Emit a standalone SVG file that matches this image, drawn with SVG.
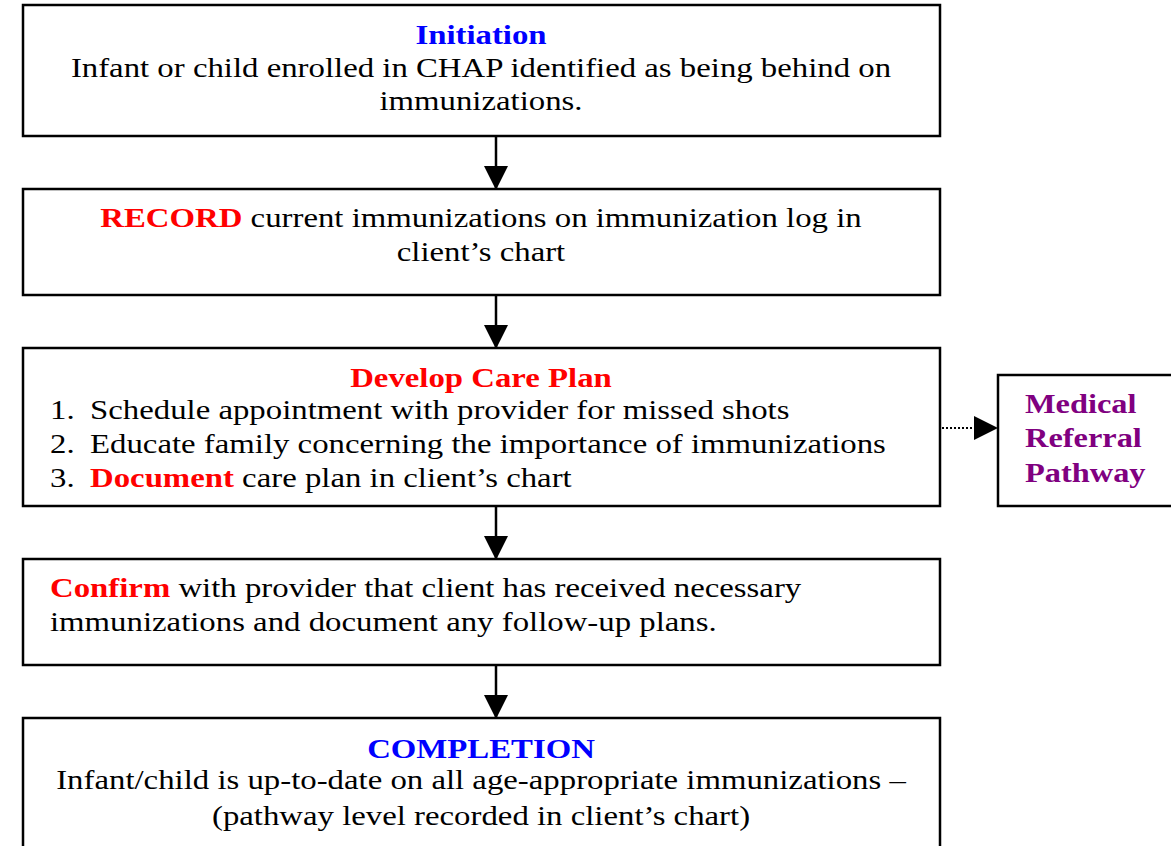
<svg xmlns="http://www.w3.org/2000/svg" width="1171" height="846" viewBox="0 0 1171 846">
<style>
.box{fill:#fff;stroke:#000;stroke-width:2.5}
text{font-family:"Liberation Serif","Times New Roman",serif;font-size:27px;fill:#000}
.c{text-anchor:middle}
.b{font-weight:bold}
.blue{fill:#0000ff}
.red{fill:#ff0000}
.pur{fill:#800080;font-weight:bold}
.ln{stroke:#000;stroke-width:2.5;fill:none}
</style>
<defs>
<marker id="ah" markerWidth="25" markerHeight="24" refX="23" refY="12" orient="auto" markerUnits="userSpaceOnUse">
<path d="M0,0 L24,12 L0,24 Z" fill="#000"/>
</marker>
</defs>
<rect width="1171" height="846" fill="#fff"/>
<g id="connectors">
<line class="ln" x1="496" y1="136" x2="496" y2="189" marker-end="url(#ah)"/>
<line class="ln" x1="496" y1="295" x2="496" y2="348" marker-end="url(#ah)"/>
<line class="ln" x1="496" y1="506" x2="496" y2="559" marker-end="url(#ah)"/>
<line class="ln" x1="496" y1="665" x2="496" y2="718" marker-end="url(#ah)"/>
<line x1="942" y1="428" x2="997" y2="428" stroke="#000" stroke-width="2" stroke-dasharray="2,2" marker-end="url(#ah)"/>
</g>
<g id="initiation">
<rect class="box" x="23" y="5" width="917" height="131"/>
<text class="c b blue" transform="translate(481 44) scale(1.215 1)">Initiation</text>
<text class="c" transform="translate(481 77) scale(1.215 1)">Infant or child enrolled in CHAP identified as being behind on</text>
<text class="c" transform="translate(481 110) scale(1.215 1)">immunizations.</text>
</g>
<g id="record">
<rect class="box" x="23" y="189" width="917" height="106"/>
<text class="c" transform="translate(481 227) scale(1.215 1)"><tspan class="b red">RECORD</tspan> current immunizations on immunization log in</text>
<text class="c" transform="translate(481 261) scale(1.215 1)">client’s chart</text>
</g>
<g id="careplan">
<rect class="box" x="23" y="348" width="917" height="158"/>
<text class="c b red" transform="translate(481 387) scale(1.215 1)">Develop Care Plan</text>
<text transform="translate(50 419) scale(1.215 1)">1.</text><text transform="translate(90 419) scale(1.215 1)">Schedule appointment with provider for missed shots</text>
<text transform="translate(50 453) scale(1.215 1)">2.</text><text transform="translate(90 453) scale(1.215 1)">Educate family concerning the importance of immunizations</text>
<text transform="translate(50 487) scale(1.215 1)">3.</text><text transform="translate(90 487) scale(1.215 1)"><tspan class="b red">Document</tspan> care plan in client’s chart</text>
</g>
<g id="confirm">
<rect class="box" x="23" y="559" width="917" height="106"/>
<text transform="translate(50 597) scale(1.215 1)"><tspan class="b red">Confirm</tspan> with provider that client has received necessary</text>
<text transform="translate(50 631) scale(1.215 1)">immunizations and document any follow-up plans.</text>
</g>
<g id="completion">
<rect class="box" x="23" y="718" width="917" height="140"/>
<text class="c b blue" transform="translate(481 758) scale(1.215 1)">COMPLETION</text>
<text class="c" transform="translate(481 789) scale(1.215 1)">Infant/child is up-to-date on all age-appropriate immunizations –</text>
<text class="c" transform="translate(481 825) scale(1.215 1)">(pathway level recorded in client’s chart)</text>
</g>
<g id="referral">
<rect class="box" x="998" y="375" width="185" height="131"/>
<text class="pur" transform="translate(1025 413) scale(1.2 1)">Medical</text>
<text class="pur" transform="translate(1025 447) scale(1.2 1)">Referral</text>
<text class="pur" transform="translate(1025 482) scale(1.2 1)">Pathway</text>
</g>
</svg>
